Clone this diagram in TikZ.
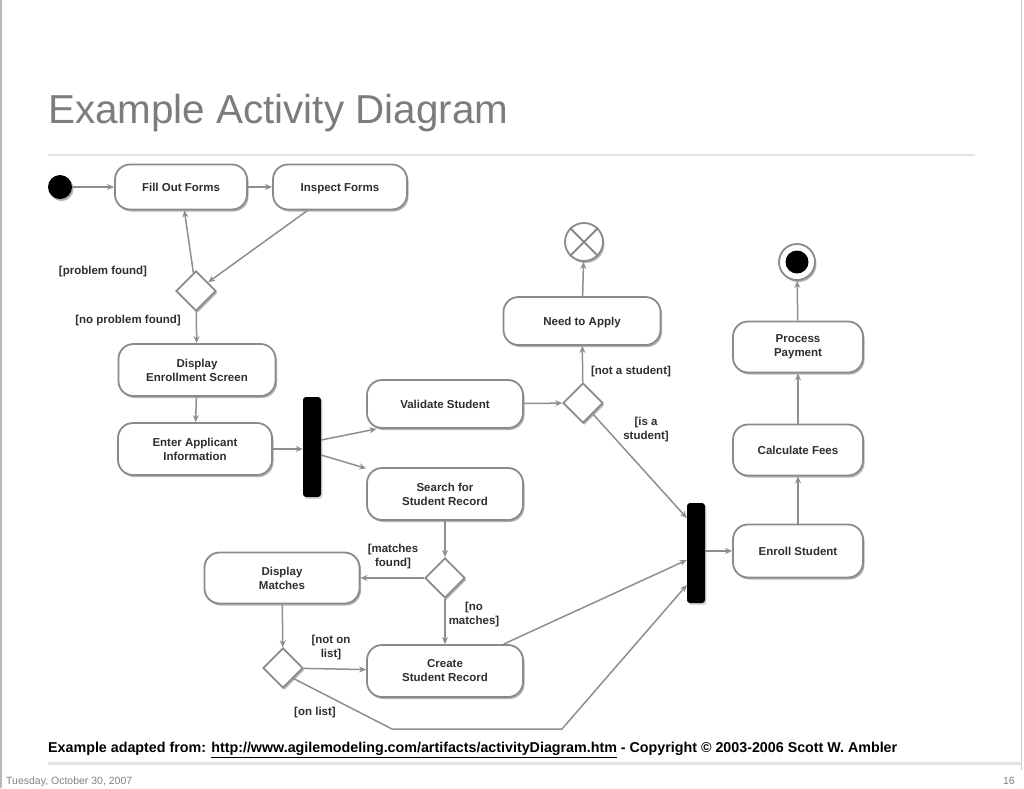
\documentclass[tikz,border=0pt]{standalone}
\usepackage{fontspec}
\setmainfont{Liberation Sans}
\usetikzlibrary{shapes.geometric,shadows,arrows.meta}
\definecolor{linegray}{HTML}{8E8E8E}
\definecolor{boxgray}{HTML}{8A8A8A}
\definecolor{txt}{HTML}{2E2E2E}
\definecolor{titlegray}{HTML}{7C7C7C}
\definecolor{rulegray}{HTML}{E2E2E2}
\tikzset{
  shad/.style={drop shadow={shadow xshift=1.5pt, shadow yshift=-2pt, fill=gray!60, opacity=1}},
  act/.style={draw=boxgray, line width=1.8pt, fill=white, rounded corners=15pt, align=center,
    font=\fontsize{11.5}{14}\selectfont\bfseries, text=txt, inner sep=2pt, shad},
  oneline/.style={text height=8.5pt, text depth=0pt},
  dec/.style={diamond, draw=boxgray, line width=1.8pt, fill=white, minimum width=40pt,
    minimum height=40pt, inner sep=0pt, shad},
  syncbar/.style={fill=black, rounded corners=3pt, minimum width=18pt, minimum height=100pt,
    inner sep=0pt, drop shadow={shadow xshift=1.5pt, shadow yshift=-2pt, fill=gray!60}},
  flow/.style={draw=linegray, line width=1.5pt, -{Stealth[length=7pt,width=6pt]}},
  lbl/.style={font=\fontsize{11.5}{14}\selectfont\bfseries, text=txt, align=center, inner sep=0pt}
}
\begin{document}
\begin{tikzpicture}[x=1pt,y=-1pt]
\useasboundingbox (0,0) rectangle (1024,788);
% slide frame and rules
\draw[gray!55, line width=1.5pt] (1,0) -- (1,788);
\draw[gray!40, line width=1pt] (1021,0) -- (1021,770);
\draw[rulegray, line width=2pt] (48,155) -- (975,155);
\draw[rulegray, line width=3pt] (48,763) -- (1021,763);
% title
\node[anchor=base west, inner sep=0pt, text=titlegray] (title) at (48,123)
  {\resizebox{460pt}{!}{Example Activity Diagram}};
% footer
\node[anchor=base west, inner sep=0pt, text=black] (src) at (48,752)
  {\resizebox{849pt}{!}{\bfseries Example adapted from: \underline{http://www.agilemodeling.com/artifacts/activityDiagram.htm} - Copyright \textcopyright{} 2003-2006 Scott W. Ambler}};
\node[anchor=base west, inner sep=0pt, text=gray, font=\fontsize{10.5}{12}\selectfont] (date) at (6,784) {Tuesday, October 30, 2007};
\node[anchor=base east, inner sep=0pt, text=gray, font=\fontsize{10.5}{12}\selectfont] (page) at (1015,784) {16};

% nodes
\node[circle, fill=black, minimum size=24pt, inner sep=0pt, shad] (init) at (60,187) {};
\node[act, oneline, minimum width=132pt, minimum height=45pt] (fill) at (181,187) {Fill Out Forms};
\node[act, oneline, minimum width=134pt, minimum height=45pt] (inspect) at (340,187) {Inspect Forms};
\node[dec] (d1) at (196,291) {};
\node[act, minimum width=157pt, minimum height=52pt] (disp) at (197,370) {Display\\Enrollment Screen};
\node[act, minimum width=154pt, minimum height=52pt] (enter) at (195,449) {Enter Applicant\\Information};
\node[syncbar] (fork) at (312,447) {};
\node[act, oneline, minimum width=156pt, minimum height=48pt] (valid) at (445,404) {Validate Student};
\node[act, minimum width=156pt, minimum height=52pt] (search) at (445,494) {Search for\\Student Record};
\node[act, oneline, minimum width=157pt, minimum height=48pt] (need) at (582,321) {Need to Apply};
\node[circle, draw=boxgray, line width=1.8pt, fill=white, minimum size=38pt, inner sep=0pt, shad] (ff) at (584,242) {};
\draw[boxgray, line width=1.8pt] (ff.45) -- (ff.225) (ff.135) -- (ff.-45);
\node[dec] (d2) at (583,403) {};
\node[syncbar] (join) at (696,553) {};
\node[act, oneline, minimum width=130pt, minimum height=53pt] (enroll) at (798,551) {Enroll Student};
\node[act, oneline, minimum width=130pt, minimum height=51pt] (calc) at (798,450) {Calculate Fees};
\node[act, minimum width=130pt, minimum height=51pt] (proc) at (798,347) {Process\\Payment};
\node[circle, draw=boxgray, line width=1.8pt, fill=white, minimum size=36pt, inner sep=0pt, shad] (fin) at (797,262) {};
\node[circle, fill=black, minimum size=23pt, inner sep=0pt] (fincore) at (797,262) {};
\node[dec] (d3) at (445,578) {};
\node[act, minimum width=155pt, minimum height=51pt] (match) at (282,578) {Display\\Matches};
\node[act, minimum width=156pt, minimum height=52pt] (create) at (445,671) {Create\\Student Record};
\node[dec] (d4) at (283,668) {};
\coordinate (b1) at (392,729);
\coordinate (b2) at (562,729);

% labels
\node[lbl] (l1) at (103,272) {[problem found]};
\node[lbl] (l2) at (128,321) {[no problem found]};
\node[lbl] (l3) at (631,372) {[not a student]};
\node[lbl] (l4) at (646,430) {[is a\\student]};
\node[lbl] (l5) at (393,557) {[matches\\found]};
\node[lbl] (l6) at (474,615) {[no\\matches]};
\node[lbl] (l7) at (331,648) {[not on\\list]};
\node[lbl] (l8) at (315,713) {[on list]};

% connectors
\draw[flow] (init) -- (fill);
\draw[flow] (fill) -- (inspect);
\draw[flow] (inspect) -- (d1);
\draw[flow] (d1) -- (fill);
\draw[flow] (d1) -- (disp);
\draw[flow] (disp) -- (enter);
\draw[flow] (enter.east) -- (fork.west |- enter.east);
\draw[flow] ([yshift=7pt]fork.east) -- (valid.200);
\draw[flow] ([yshift=-8pt]fork.east) -- (search.162);
\draw[flow] (valid) -- (d2);
\draw[flow] (d2) -- (need);
\draw[flow] (need) -- (ff);
\draw[flow] (d2) -- ([yshift=35pt]join.west);
\draw[flow] (search) -- (d3);
\draw[flow] (d3) -- (match);
\draw[flow] (d3) -- (create);
\draw[flow] (match) -- (d4);
\draw[flow] (d4) -- (create);
\draw[flow] (create) -- ([yshift=-7pt]join.west);
\draw[flow] (d4.south east) -- (b1) -- (b2) -- ([yshift=-32pt]join.west);
\draw[flow] (join.east |- enroll.west) -- (enroll.west);
\draw[flow] (enroll) -- (calc);
\draw[flow] (calc) -- (proc);
\draw[flow] (proc) -- (fin);
\end{tikzpicture}
\end{document}
